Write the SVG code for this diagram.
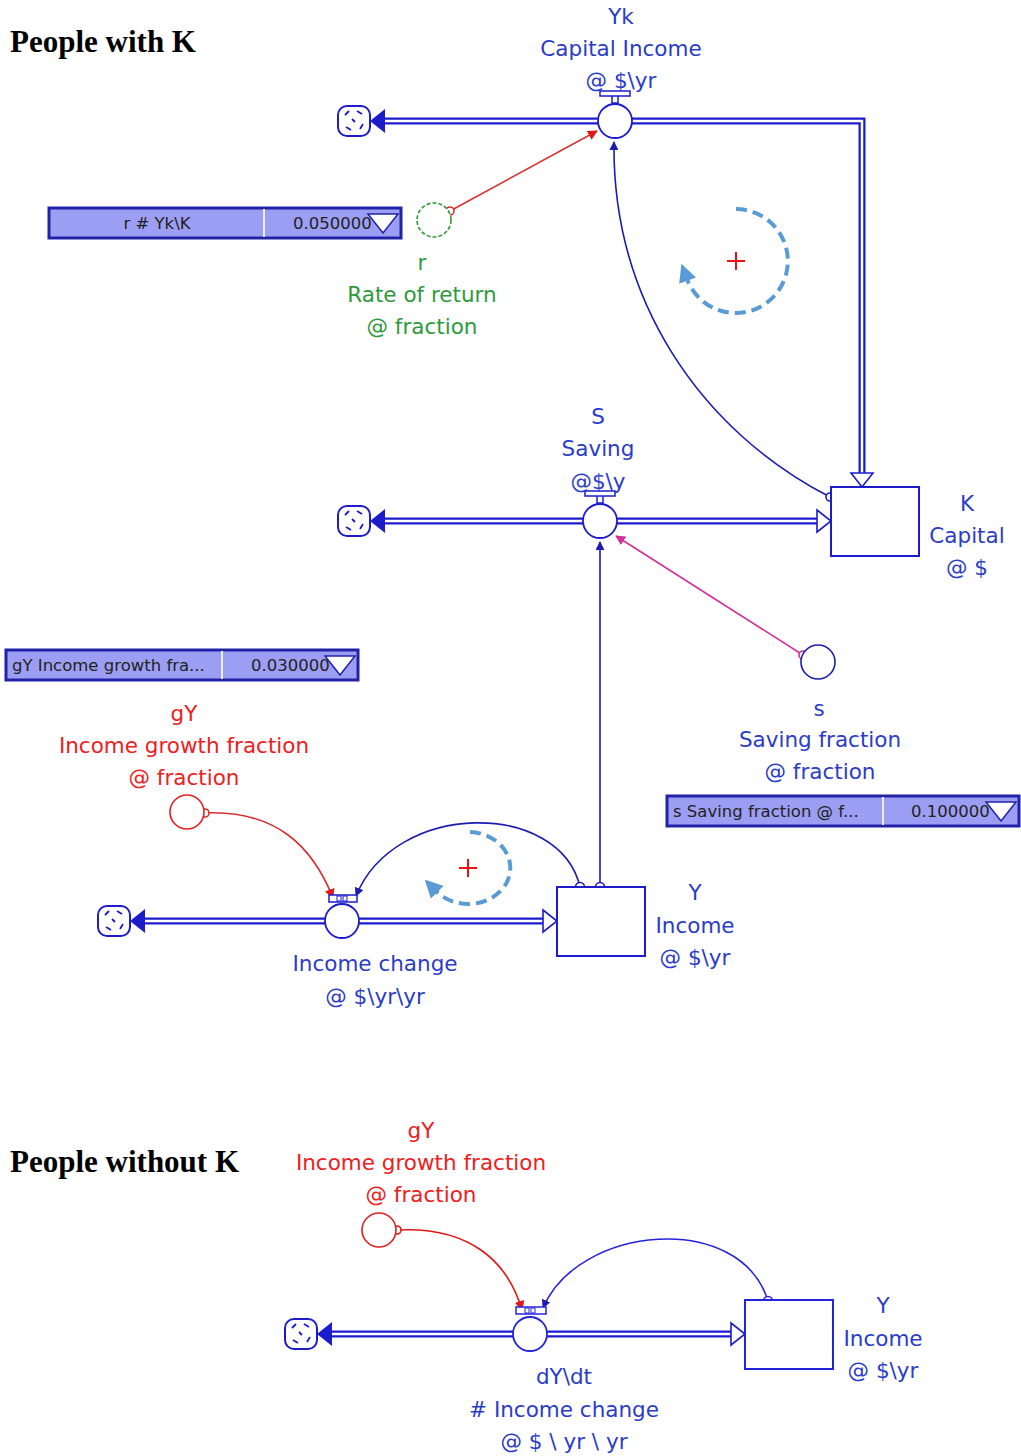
<svg xmlns="http://www.w3.org/2000/svg" width="1021" height="1456" viewBox="0 0 1021 1456">
<style>
  .title { font-family: "Liberation Serif", serif; font-weight: bold; font-size: 31px; fill: #000; }
  .lbl { font-family: "DejaVu Sans", "Liberation Sans", sans-serif; font-size: 21.5px; text-anchor: middle; }
  .blue { fill: #2b3cc8; }
  .green { fill: #2e9a3c; }
  .red { fill: #ee2020; }
  .pipe { stroke: #1c1ccc; stroke-width: 7; fill: none; }
  .pipeIn { stroke: #ffffff; stroke-width: 2.5; fill: none; }
  .valve { fill: #fff; stroke: #1c1ccc; stroke-width: 1.8; }
  .stock { fill: #fff; stroke: #1c1ccc; stroke-width: 2; }
  .conn { fill: none; stroke: #1c1cb0; stroke-width: 1.6; }
  .slider { fill: #9c9ef4; stroke: #2222a8; stroke-width: 3; }
  .sliderTxt { font-family: "DejaVu Sans", "Liberation Sans", sans-serif; font-size: 16.5px; fill: #222; }
  .loop { fill: none; stroke: #5b9bd5; stroke-width: 4; stroke-dasharray: 11 6; }
  .plus { stroke: #ee1111; stroke-width: 2; }
</style>
<defs>
  <g id="cloud">
    <rect x="-16" y="-15" width="32" height="30" rx="9" fill="#fff" stroke="#1c1ccc" stroke-width="2"/>
    <path d="M-9,-6 l4,-4 M3,-10 l5,3 M9,3 l-3,5 M-3,9 l-5,-3 M-2,-2 l3,3" stroke="#1c1ccc" stroke-width="1.8" fill="none"/>
  </g>
  <g id="sink">
    <use href="#cloud"/>
    <polygon points="16,0 31,-12 31,12" fill="#1c1ccc"/>
  </g>
  <g id="handle">
    <rect x="-3" y="-28" width="6" height="10" fill="#fff" stroke="#1c1ccc" stroke-width="1.5"/>
    <rect x="-15" y="-30" width="30" height="5" fill="#fff" stroke="#1c1ccc" stroke-width="1.5"/>
  </g>
  <marker id="aBlue" viewBox="0 0 10 10" refX="9" refY="5" markerWidth="9" markerHeight="9" markerUnits="userSpaceOnUse" orient="auto">
    <path d="M0,0 L10,5 L0,10 z" fill="#1c1cb0"/>
  </marker>
  <marker id="aRed" viewBox="0 0 10 10" refX="9" refY="5" markerWidth="10" markerHeight="10" markerUnits="userSpaceOnUse" orient="auto">
    <path d="M0,0 L10,5 L0,10 z" fill="#e01818"/>
  </marker>
  <marker id="aPink" viewBox="0 0 10 10" refX="9" refY="5" markerWidth="10" markerHeight="10" markerUnits="userSpaceOnUse" orient="auto">
    <path d="M0,0 L10,5 L0,10 z" fill="#d0309a"/>
  </marker>
  <marker id="aLoop" viewBox="0 0 10 10" refX="1" refY="5" markerWidth="18" markerHeight="18" markerUnits="userSpaceOnUse" orient="auto">
    <path d="M0,0 L10,5 L0,10 z" fill="#5b9bd5"/>
  </marker>
  <g id="openHeadRight">
    <path d="M-14,-11 L0,0 L-14,11 z" fill="#fff" stroke="#1c1ccc" stroke-width="1.6"/>
  </g>
</defs>

<text class="title" x="10" y="52">People with K</text>
<text class="title" x="10" y="1172">People without K</text>

<!-- flows (pipes) -->
<g id="flows">
  <path class="pipe" d="M385,121 H862 V476"/>
  <path class="pipeIn" d="M385,121 H862 V476"/>
  <use href="#openHeadRight" transform="translate(862,487) rotate(90)"/>
  <path class="pipe" d="M385,521 H818"/>
  <path class="pipeIn" d="M385,521 H818"/>
  <use href="#openHeadRight" transform="translate(831,521)"/>
  <path class="pipe" d="M145,921 H544"/>
  <path class="pipeIn" d="M145,921 H544"/>
  <use href="#openHeadRight" transform="translate(557,921)"/>
  <path class="pipe" d="M332,1334 H732"/>
  <path class="pipeIn" d="M332,1334 H732"/>
  <use href="#openHeadRight" transform="translate(745,1334)"/>
</g>

<!-- connectors -->
<g id="connectors">
  <path class="conn" d="M830,497 C 700,430 612,300 614,142" marker-end="url(#aBlue)"/>
  <circle cx="830" cy="497" r="4" fill="#fff" stroke="#1c1cb0" stroke-width="1.6"/>
  <path d="M450,211 L597,131" stroke="#d83030" stroke-width="1.6" fill="none" marker-end="url(#aRed)"/>
  <circle cx="450" cy="211" r="4" fill="#fff" stroke="#d83030" stroke-width="1.6"/>
  <path d="M803,655 L616,536" stroke="#d0309a" stroke-width="1.6" fill="none" marker-end="url(#aPink)"/>
  <circle cx="803" cy="655" r="4" fill="#fff" stroke="#d0309a" stroke-width="1.6"/>
  <path class="conn" d="M600,887 V542" marker-end="url(#aBlue)"/>
  <circle cx="600" cy="887" r="4.5" fill="#fff" stroke="#1c1cb0" stroke-width="1.6"/>
  <path class="conn" d="M580,887 C 560,800 395,800 356,896" marker-end="url(#aBlue)"/>
  <circle cx="580" cy="887" r="4.5" fill="#fff" stroke="#1c1cb0" stroke-width="1.6"/>
  <path d="M205,813 C 275,810 312,845 333,898" stroke="#d83030" stroke-width="1.6" fill="none" marker-end="url(#aRed)"/>
  <circle cx="205" cy="813" r="4" fill="#fff" stroke="#d83030" stroke-width="1.6"/>
  <path d="M397,1230 C 470,1226 508,1262 522,1310" stroke="#e01818" stroke-width="1.6" fill="none" marker-end="url(#aRed)"/>
  <circle cx="397" cy="1230" r="4" fill="#fff" stroke="#e01818" stroke-width="1.6"/>
  <path d="M768,1301 C 740,1210 578,1225 543,1308" stroke="#2424dd" stroke-width="1.6" fill="none" marker-end="url(#aBlue)"/>
  <circle cx="768" cy="1301" r="4.5" fill="#fff" stroke="#2424dd" stroke-width="1.6"/>
</g>

<!-- Yk capital income flow -->
<g id="Yk">
  <use href="#sink" transform="translate(354,121)"/>
  <circle class="valve" cx="615" cy="121" r="17"/>
  <use href="#handle" transform="translate(615,121)"/>
  <text class="lbl blue" x="621" y="24">Yk</text>
  <text class="lbl blue" x="621" y="56">Capital Income</text>
  <text class="lbl blue" x="621" y="88">@ $\yr</text>
</g>

<!-- r rate of return -->
<g id="r">
  <rect class="slider" x="49" y="208" width="352" height="30"/>
  <line x1="264" y1="209" x2="264" y2="237" stroke="#eef" stroke-width="2"/>
  <text class="sliderTxt" x="157" y="229" text-anchor="middle">r # Yk\K</text>
  <text class="sliderTxt" x="293" y="229">0.050000</text>
  <polygon points="368,214 398,214 383,233" fill="#fff" stroke="#2222a8" stroke-width="1.5"/>
  <circle cx="434" cy="220" r="17" fill="#fff" stroke="#2e9a3c" stroke-width="1.6" stroke-dasharray="4 2"/>
  <text class="lbl green" x="422" y="270">r</text>
  <text class="lbl green" x="422" y="302">Rate of return</text>
  <text class="lbl green" x="422" y="334">@ fraction</text>
</g>

<!-- reinforcing loop K -->
<g id="loopK">
  <path class="loop" d="M736,209 A52,52 0 1 1 687,279" marker-end="url(#aLoop)"/>
  <line class="plus" x1="727" y1="261" x2="745" y2="261"/>
  <line class="plus" x1="736" y1="252" x2="736" y2="270"/>
</g>

<!-- S saving flow -->
<g id="S">
  <use href="#sink" transform="translate(354,521)"/>
  <circle class="valve" cx="600" cy="521" r="17"/>
  <use href="#handle" transform="translate(600,521)"/>
  <text class="lbl blue" x="598" y="424">S</text>
  <text class="lbl blue" x="598" y="456">Saving</text>
  <text class="lbl blue" x="598" y="489">@$\y</text>
</g>

<!-- K capital stock -->
<g id="K">
  <rect class="stock" x="831" y="487" width="88" height="69"/>
  <text class="lbl blue" x="967" y="511">K</text>
  <text class="lbl blue" x="967" y="543">Capital</text>
  <text class="lbl blue" x="967" y="575">@ $</text>
</g>

<!-- s saving fraction -->
<g id="s">
  <circle cx="818" cy="662" r="17" fill="#fff" stroke="#1c1cb0" stroke-width="1.6"/>
  <text class="lbl blue" x="819" y="716">s</text>
  <text class="lbl blue" x="820" y="747">Saving fraction</text>
  <text class="lbl blue" x="820" y="779">@ fraction</text>
  <rect class="slider" x="667" y="796" width="352" height="30"/>
  <line x1="883" y1="797" x2="883" y2="825" stroke="#eef" stroke-width="2"/>
  <text class="sliderTxt" x="673" y="817">s Saving fraction @ f...</text>
  <text class="sliderTxt" x="911" y="817">0.100000</text>
  <polygon points="986,802 1016,802 1001,821" fill="#fff" stroke="#2222a8" stroke-width="1.5"/>
</g>

<!-- gY income growth fraction -->
<g id="gY">
  <rect class="slider" x="6" y="650" width="352" height="30"/>
  <line x1="222" y1="651" x2="222" y2="679" stroke="#eef" stroke-width="2"/>
  <text class="sliderTxt" x="12" y="671">gY Income growth fra...</text>
  <text class="sliderTxt" x="251" y="671">0.030000</text>
  <polygon points="325,656 355,656 340,675" fill="#fff" stroke="#2222a8" stroke-width="1.5"/>
  <text class="lbl red" x="184" y="721">gY</text>
  <text class="lbl red" x="184" y="753">Income growth fraction</text>
  <text class="lbl red" x="184" y="785">@ fraction</text>
  <circle cx="187" cy="812" r="17" fill="#fff" stroke="#e02020" stroke-width="1.6"/>
</g>

<!-- income change flow -->
<g id="IncomeChange">
  <use href="#sink" transform="translate(114,921)"/>
  <circle class="valve" cx="342" cy="921" r="17"/>
  <rect x="329" y="895" width="28" height="7" fill="#fff" stroke="#1c1ccc" stroke-width="1.5"/>
  <rect x="337" y="896" width="4" height="5" fill="none" stroke="#1c1ccc" stroke-width="1"/>
  <rect x="343" y="896" width="4" height="5" fill="none" stroke="#1c1ccc" stroke-width="1"/>
  <text class="lbl blue" x="375" y="971">Income change</text>
  <text class="lbl blue" x="375" y="1004">@ $\yr\yr</text>
</g>

<!-- reinforcing loop Y -->
<g id="loopY">
  <path class="loop" d="M470,832 A42,36 0 1 1 436,891" marker-end="url(#aLoop)"/>
  <line class="plus" x1="459" y1="868" x2="477" y2="868"/>
  <line class="plus" x1="468" y1="859" x2="468" y2="877"/>
</g>

<!-- Y income stock -->
<g id="Y">
  <rect class="stock" x="557" y="887" width="88" height="69"/>
  <text class="lbl blue" x="695" y="900">Y</text>
  <text class="lbl blue" x="695" y="933">Income</text>
  <text class="lbl blue" x="695" y="965">@ $\yr</text>
</g>

<!-- second model: people without K -->
<g id="gY2">
  <text class="lbl red" x="421" y="1138">gY</text>
  <text class="lbl red" x="421" y="1170">Income growth fraction</text>
  <text class="lbl red" x="421" y="1202">@ fraction</text>
  <circle cx="379" cy="1230" r="17" fill="#fff" stroke="#e02020" stroke-width="1.6"/>
</g>

<g id="dYdt">
  <use href="#sink" transform="translate(301,1334)"/>
  <circle class="valve" cx="530" cy="1334" r="17" style="stroke:#2424dd"/>
  <rect x="516" y="1307" width="30" height="7" fill="#fff" stroke="#2424dd" stroke-width="1.5"/>
  <rect x="525" y="1308" width="4" height="5" fill="none" stroke="#2424dd" stroke-width="1"/>
  <rect x="531" y="1308" width="4" height="5" fill="none" stroke="#2424dd" stroke-width="1"/>
  <text class="lbl blue" x="564" y="1384">dY\dt</text>
  <text class="lbl blue" x="564" y="1417"># Income change</text>
  <text class="lbl blue" x="564" y="1449">@ $ \ yr \ yr</text>
</g>

<g id="Y2">
  <rect class="stock" x="745" y="1300" width="88" height="69" style="stroke:#2424dd"/>
  <text class="lbl blue" x="883" y="1313">Y</text>
  <text class="lbl blue" x="883" y="1346">Income</text>
  <text class="lbl blue" x="883" y="1378">@ $\yr</text>
</g>
</svg>
